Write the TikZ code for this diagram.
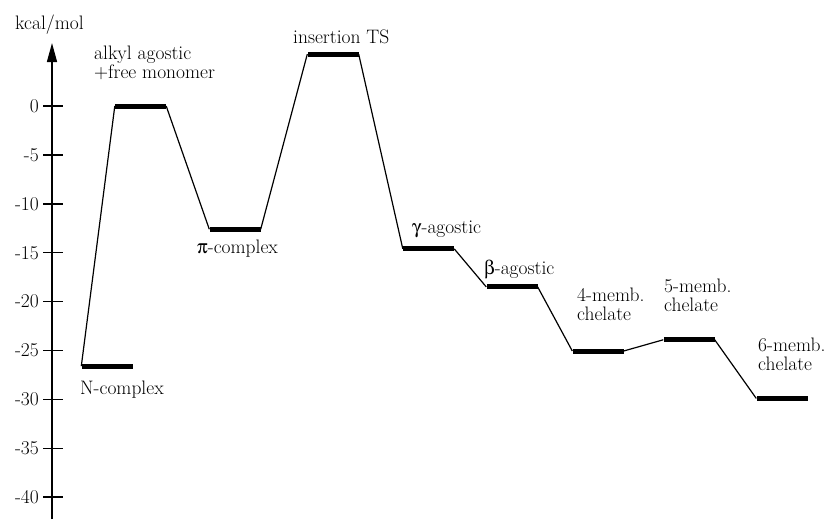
\documentclass[tikz,border=0pt]{standalone}
\usepackage{fontspec}
\usepackage[Symbol]{upgreek}
\usetikzlibrary{arrows.meta}

\begin{document}
\begin{tikzpicture}[x=1pt,y=9.78pt,
	level/.style={fill=black,inner sep=0pt,minimum width=51pt,minimum height=5pt},
	conn/.style={line width=1.2pt},
	lbl/.style={inner sep=0pt,anchor=base west,align=left,font=\fontsize{19.5}{19}\selectfont}]
	\useasboundingbox (-52,-42.23) rectangle (778,10.84);
	% energy axis
	\draw [line width=1.5pt,-{Triangle[length=19pt,width=10pt]}] (0,-42.23) -- (0,6.44);
	\foreach \e in {0,-5,...,-40} {
		\draw [line width=1.5pt] (-9,\e) -- (11,\e);
		\node [anchor=east,inner sep=0pt,font=\fontsize{19.5}{19}\selectfont] (tick\e) at (-13,\e) {\e};
	}
	\node [lbl] (unit) at (-37,7.87) {kcal/mol};
	% levels
	\node [level] (N) at (55,-26.6) {};
	\node [level] (alkyl) at (88.5,0) {};
	\node [level] (pi) at (183,-12.6) {};
	\node [level] (TS) at (281,5.3) {};
	\node [level] (gamma) at (376.5,-14.6) {};
	\node [level] (beta) at (460,-18.5) {};
	\node [level] (chel4) at (546,-25.05) {};
	\node [level] (chel5) at (637,-23.9) {};
	\node [level] (chel6) at (730,-29.9) {};
	% pathway
	\draw [conn] (N.west) -- (alkyl.west);
	\foreach \a/\b in {alkyl/pi,pi/TS,TS/gamma,gamma/beta,beta/chel4,chel4/chel5,chel5/chel6}
		\draw [conn] (\a.east) -- (\b.west);
	% labels
	\node [lbl,font=\fontsize{19.5}{17}\selectfont] (alkylL) at (42,2.86) {alkyl agostic\\+free monomer};
	\node [lbl] (NL) at (28,-29.45) {N-complex};
	\node [lbl] (piL) at (145,-15.03) {$\uppi$-complex};
	\node [lbl] (TSL) at (241,6.44) {insertion TS};
	\node [lbl] (gammaL) at (360,-13.0) {$\upgamma$-agostic};
	\node [lbl] (betaL) at (432,-17.2) {$\upbeta$-agostic};
	\node [lbl] (chel4L) at (525,-21.98) {4-memb.\\chelate};
	\node [lbl] (chel5L) at (612,-21.06) {5-memb.\\chelate};
	\node [lbl] (chel6L) at (706,-27.0) {6-memb.\\chelate};
\end{tikzpicture}
\end{document}
